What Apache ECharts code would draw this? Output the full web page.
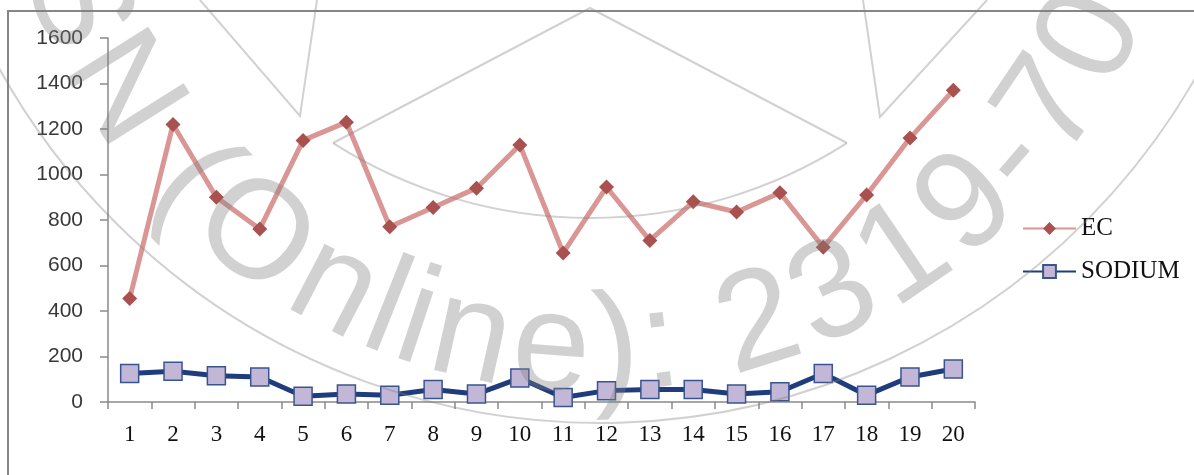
<!DOCTYPE html>
<html>
<head>
<meta charset="utf-8">
<script src="https://cdn.jsdelivr.net/npm/echarts@6/dist/echarts.min.js"></script>
<style>
html,body{margin:0;padding:0;background:#fff;}
#chart{width:1194px;height:475px;}
</style>
</head>
<body>
<div id="chart"></div>
<script>
const categories = ['1','2','3','4','5','6','7','8','9','10','11','12','13','14','15','16','17','18','19','20'];
const ecValues = [455,1220,900,760,1150,1230,770,855,940,1130,655,945,710,880,835,920,680,910,1160,1370];
const sodiumValues = [125,135,115,110,25,35,30,55,35,105,20,50,55,55,35,45,125,30,110,145];
const seriesNames = ['EC','SODIUM'];
const yMin = 0, yMax = 1600, yStep = 200;
const watermarkText = 'ISSN (Online): 2319-7064';

const chart = echarts.init(document.getElementById('chart'), null, {renderer:'canvas'});

// watermark characters placed along an arc
function buildWatermark(){
  const els = [];
  const font = '140px "Liberation Sans"';
  const ctx = document.createElement('canvas').getContext('2d');
  ctx.font = font;
  const cx = 592, cy = -205, r = 535, dr = 22;
  const chars = watermarkText.split('');
  const adv = chars.map(c => ctx.measureText(c).width);
  const centers = []; let s = 0;
  adv.forEach(w => { centers.push(s + w/2); s += w; });
  const anchorIdx = watermarkText.indexOf('e)');
  const anchorTheta = -4.2 * Math.PI/180;
  const col = 'rgba(128,128,128,0.36)';
  chars.forEach((c,i) => {
    if (c === ' ') return;
    const th = anchorTheta + (centers[i] - centers[anchorIdx]) / r;
    els.push({
      type:'text', silent:true, z:100,
      x: cx + (r+dr)*Math.sin(th), y: cy + (r+dr)*Math.cos(th),
      rotation: th,
      style:{text:c, font:font, fill:col, align:'center', verticalAlign:'middle'}
    });
  });
  const ls = {stroke:col, lineWidth:2, fill:null};
  els.push({type:'polyline', silent:true, z:100, shape:{points:[[200,0],[300,116],[317,0]]}, style:ls});
  els.push({type:'polyline', silent:true, z:100, shape:{points:[[863,0],[880,117],[987,0]]}, style:ls});
  els.push({type:'polyline', silent:true, z:100, shape:{points:[[333,143],[590,8],[847,143]]}, style:ls});
  els.push({type:'arc', silent:true, z:100, shape:{cx:590, cy:-260, r:478, startAngle:57.5*Math.PI/180, endAngle:122.5*Math.PI/180, clockwise:true}, style:ls});
  els.push({type:'arc', silent:true, z:100, shape:{cx:600, cy:-263, r:686, startAngle:20*Math.PI/180, endAngle:160*Math.PI/180, clockwise:true}, style:ls});
  return els;
}

const graphics = [
  {type:'polyline', silent:true, z:100, shape:{points:[[8,475],[8,11],[1194,11]]}, style:{stroke:'#868686', lineWidth:2, fill:null}}
].concat(buildWatermark());

const option = {
  animation:false,
  backgroundColor:'#ffffff',
  grid:{left:108, right:219, top:38, bottom:73},
  legend:{
    orient:'vertical', left:1017, top:211,
    itemWidth:53, itemHeight:16, itemGap:18,
    data:seriesNames,
    textStyle:{fontFamily:'"Liberation Serif", serif', fontSize:25, color:'#111', lineHeight:24}
  },
  xAxis:{
    type:'category', data:categories, boundaryGap:true,
    axisLine:{show:true, lineStyle:{color:'#8a8a8a', width:1.5}},
    axisTick:{show:true, length:7, alignWithLabel:false, lineStyle:{color:'#8a8a8a', width:1.5}},
    axisLabel:{fontFamily:'"Liberation Serif", serif', fontSize:23, color:'#111', margin:21, interval:0},
    splitLine:{show:false}
  },
  yAxis:{
    type:'value', min:yMin, max:yMax, interval:yStep,
    axisLine:{show:true, lineStyle:{color:'#8a8a8a', width:1.5}},
    axisTick:{show:true, length:8, lineStyle:{color:'#8a8a8a', width:1.5}},
    axisLabel:{fontFamily:'"Liberation Sans", sans-serif', fontSize:21, color:'#383838', margin:25, formatter:v => String(v)},
    splitLine:{show:false}
  },
  series:[
    {
      name:seriesNames[0], type:'line', data:ecValues,
      symbol:'diamond', symbolSize:15,
      lineStyle:{color:'#d99694', width:5},
      itemStyle:{color:'#a9514f'},
      z:3
    },
    {
      name:seriesNames[1], type:'line', data:sodiumValues,
      symbol:'rect', symbolSize:18,
      lineStyle:{color:'#1f3d7c', width:5},
      itemStyle:{color:'#c3b7d7', borderColor:'#3a5490', borderWidth:1.5},
      z:2
    }
  ],
  graphic:graphics
};
chart.setOption(option);
</script>
</body>
</html>
